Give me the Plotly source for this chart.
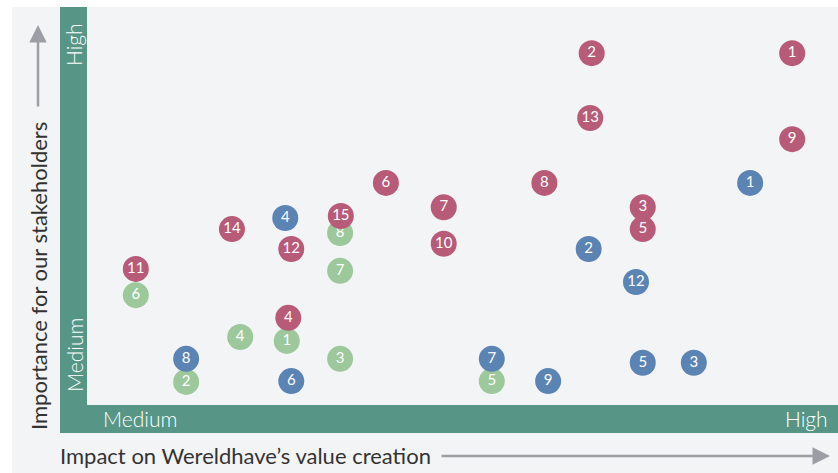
import plotly.graph_objects as go

# materiality matrix data: impact (x, 0 = medium .. 100 = high), importance (y)
red_labels = ["1", "2", "13", "9", "8", "6", "7", "3", "5", "15", "14", "12", "10", "11", "4"]
red_x = [93.9, 67.2, 67.0, 93.9, 60.9, 39.8, 47.5, 74.0, 74.0, 33.8, 19.3, 27.2, 47.5, 6.5, 26.8]
red_y = [88.4, 88.4, 72.1, 66.8, 55.8, 55.8, 49.7, 49.7, 44.2, 47.5, 44.2, 39.2, 40.5, 34.2, 21.9]

blue_labels = ["1", "4", "2", "12", "8", "7", "5", "3", "6", "9"]
blue_x = [88.3, 26.4, 66.8, 73.1, 13.2, 53.9, 74.0, 80.8, 27.2, 61.4]
blue_y = [55.8, 47.0, 39.2, 30.9, 11.6, 11.6, 10.6, 10.6, 6.0, 6.0]

green_labels = ["8", "7", "6", "4", "1", "3", "2", "5"]
green_x = [33.7, 33.7, 6.5, 20.4, 26.6, 33.7, 13.2, 53.9]
green_y = [43.2, 33.7, 27.6, 17.1, 16.1, 11.6, 5.8, 6.0]

W, H = 838, 473
FONT = "Lato"
BAR = "#579686"

def px(x):
    return x / W

def py(y):
    return 1 - y / H

fig = go.Figure()
for xs, ys, labels, color in [
    (green_x, green_y, green_labels, "#9cc89c"),
    (blue_x, blue_y, blue_labels, "#5b84b5"),
    (red_x, red_y, red_labels, "#b85b78"),
]:
    fig.add_trace(go.Scatter(
        x=xs, y=ys, text=labels, mode="markers+text",
        textposition="middle center",
        textfont=dict(family=FONT, size=15, color="white"),
        marker=dict(size=26, color=color, line=dict(width=0)),
        hoverinfo="skip", showlegend=False,
    ))

shapes = [
    # grey panel
    dict(type="rect", xref="paper", yref="paper", x0=px(12), x1=1, y0=0, y1=py(7),
         fillcolor="#f3f4f6", line=dict(width=0), layer="below"),
    # vertical green bar
    dict(type="rect", xref="paper", yref="paper", x0=px(60), x1=px(87), y0=py(433), y1=py(7),
         fillcolor=BAR, line=dict(width=0), layer="below"),
    # horizontal green bar
    dict(type="rect", xref="paper", yref="paper", x0=px(60), x1=1, y0=py(433), y1=py(405),
         fillcolor=BAR, line=dict(width=0), layer="below"),
]

annotations = [
    dict(text="High", x=px(74), y=py(45), textangle=-90),
    dict(text="Medium", x=px(74), y=py(355), textangle=-90),
    dict(text="Medium", x=px(140), y=py(418)),
    dict(text="High", x=px(830), y=py(418), xanchor="right"),
]
for a in annotations:
    a.update(xref="paper", yref="paper", showarrow=False,
             font=dict(family=FONT, size=21, color="white", weight=300))
    a.setdefault("xanchor", "center")
    a["yanchor"] = "middle"

annotations += [
    dict(text="Importance for our stakeholders", x=px(38), y=py(276), textangle=-90,
         xref="paper", yref="paper", showarrow=False, xanchor="center", yanchor="middle",
         font=dict(family=FONT, size=22, color="#333333")),
    dict(text="Impact on Wereldhave\u2019s value creation", x=px(58), y=py(455),
         xref="paper", yref="paper", showarrow=False, xanchor="left", yanchor="middle",
         font=dict(family=FONT, size=22, color="#333333")),
    # arrows
    dict(text="", x=px(38), y=py(25), ax=0, ay=83, xref="paper", yref="paper",
         showarrow=True, arrowhead=2, arrowsize=1.4, arrowwidth=2.5, arrowcolor="#9b9ea3"),
    dict(text="", x=px(830), y=py(456), ax=-390, ay=0, xref="paper", yref="paper",
         showarrow=True, arrowhead=2, arrowsize=1.4, arrowwidth=2.5, arrowcolor="#9b9ea3"),
]

fig.update_layout(
    width=W, height=H,
    margin=dict(l=0, r=0, t=0, b=0),
    paper_bgcolor="white", plot_bgcolor="rgba(0,0,0,0)",
    xaxis=dict(range=[-87 / 7.51, 100], visible=False, fixedrange=True),
    yaxis=dict(range=[-(H - 405) / 3.98, 405 / 3.98], visible=False, fixedrange=True),
    shapes=shapes, annotations=annotations,
)

fig.write_html("out.html", config={"displayModeBar": False},
               post_script="document.body.style.margin='0';")
